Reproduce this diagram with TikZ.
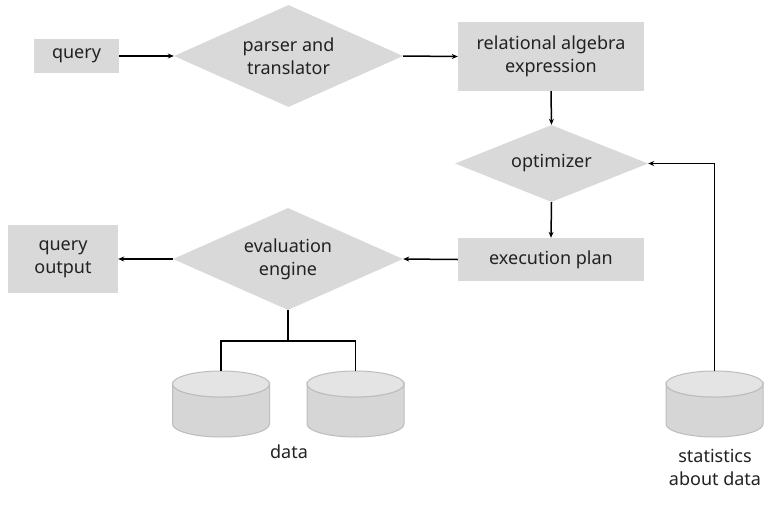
\documentclass[tikz,border=0pt]{standalone}
\usepackage{fontspec}
\setmainfont{Noto Sans}
\usetikzlibrary{shapes.geometric,arrows.meta}
\definecolor{boxgray}{HTML}{D9D9D9}
\definecolor{cylbody}{HTML}{D6D6D6}
\definecolor{cyltop}{HTML}{E4E4E4}
\definecolor{cylline}{HTML}{BDBDBD}
\definecolor{txt}{HTML}{222222}
\tikzset{
  boxnode/.style={rectangle, fill=boxgray, inner sep=0pt, text=txt, font=\fontsize{18}{23}\selectfont, align=center},
  dnode/.style={diamond, fill=boxgray, inner sep=0pt},
  conn/.style={line width=1.5pt, draw=black},
  arr/.style={conn, -{Stealth[length=6pt,width=5pt]}},
  lbl/.style={text=txt, font=\fontsize{18}{23}\selectfont, align=center, inner sep=0pt},
}
\newcommand\dbcyl[3]{%
  \node[minimum width=97pt, minimum height=66pt, inner sep=0pt] (#1) at (#2,#3) {};
  \path[fill=cylbody, draw=cylline, line width=1pt]
    (#2-48.5,#3-20) -- (#2-48.5,#3+20) arc[start angle=180, end angle=0, x radius=48.5, y radius=13]
    -- (#2+48.5,#3-20) arc[start angle=0, end angle=180, x radius=48.5, y radius=13] -- cycle;
  \path[fill=cyltop, draw=cylline, line width=1pt] (#2,#3-20) ellipse[x radius=48.5, y radius=13];
}
\begin{document}
\begin{tikzpicture}[x=1pt,y=-1pt]
\useasboundingbox[fill=white] (0,0) rectangle (780,504);
\node[boxnode, minimum width=85pt, minimum height=34pt] (query) at (76.5,56) {query};
\node[dnode, minimum width=229pt, minimum height=102pt, label={[lbl]center:parser and\\translator}] (parser) at (288.5,56) {};
\node[boxnode, minimum width=186pt, minimum height=69pt] (rel) at (551,56.5) {relational algebra\\expression};
\node[dnode, minimum width=193pt, minimum height=77pt, label={[lbl]center:optimizer}] (opt) at (551.5,163.5) {};
\node[boxnode, minimum width=186pt, minimum height=43pt] (exec) at (551,259.5) {execution plan};
\node[dnode, minimum width=230pt, minimum height=102pt, label={[lbl]center:evaluation\\engine}] (eval) at (288,259) {};
\node[boxnode, minimum width=110pt, minimum height=68pt] (out) at (63,259) {query\\output};
\dbcyl{d1}{221}{404}
\dbcyl{d2}{355.5}{404}
\dbcyl{stats}{714.5}{404}
\node[lbl] (datalbl) at (289,452) {data};
\node[lbl] (statlbl) at (715,467) {statistics\\about data};
\coordinate (j) at (288,341);
\draw[arr] (query.east) -- (parser.west);
\draw[arr] (parser.east) -- (rel.west);
\draw[arr] (rel.south) -- (opt.north);
\draw[arr] (opt.south) -- (exec.north);
\draw[arr] (exec.west) -- (eval.east);
\draw[arr] (eval.west) -- (out.east);
\draw[arr] (stats.north) |- (opt.east);
\draw[conn] (eval.south) -- (j);
\draw[conn] (d1.north) |- (j) -| (d2.north);
\end{tikzpicture}
\end{document}
